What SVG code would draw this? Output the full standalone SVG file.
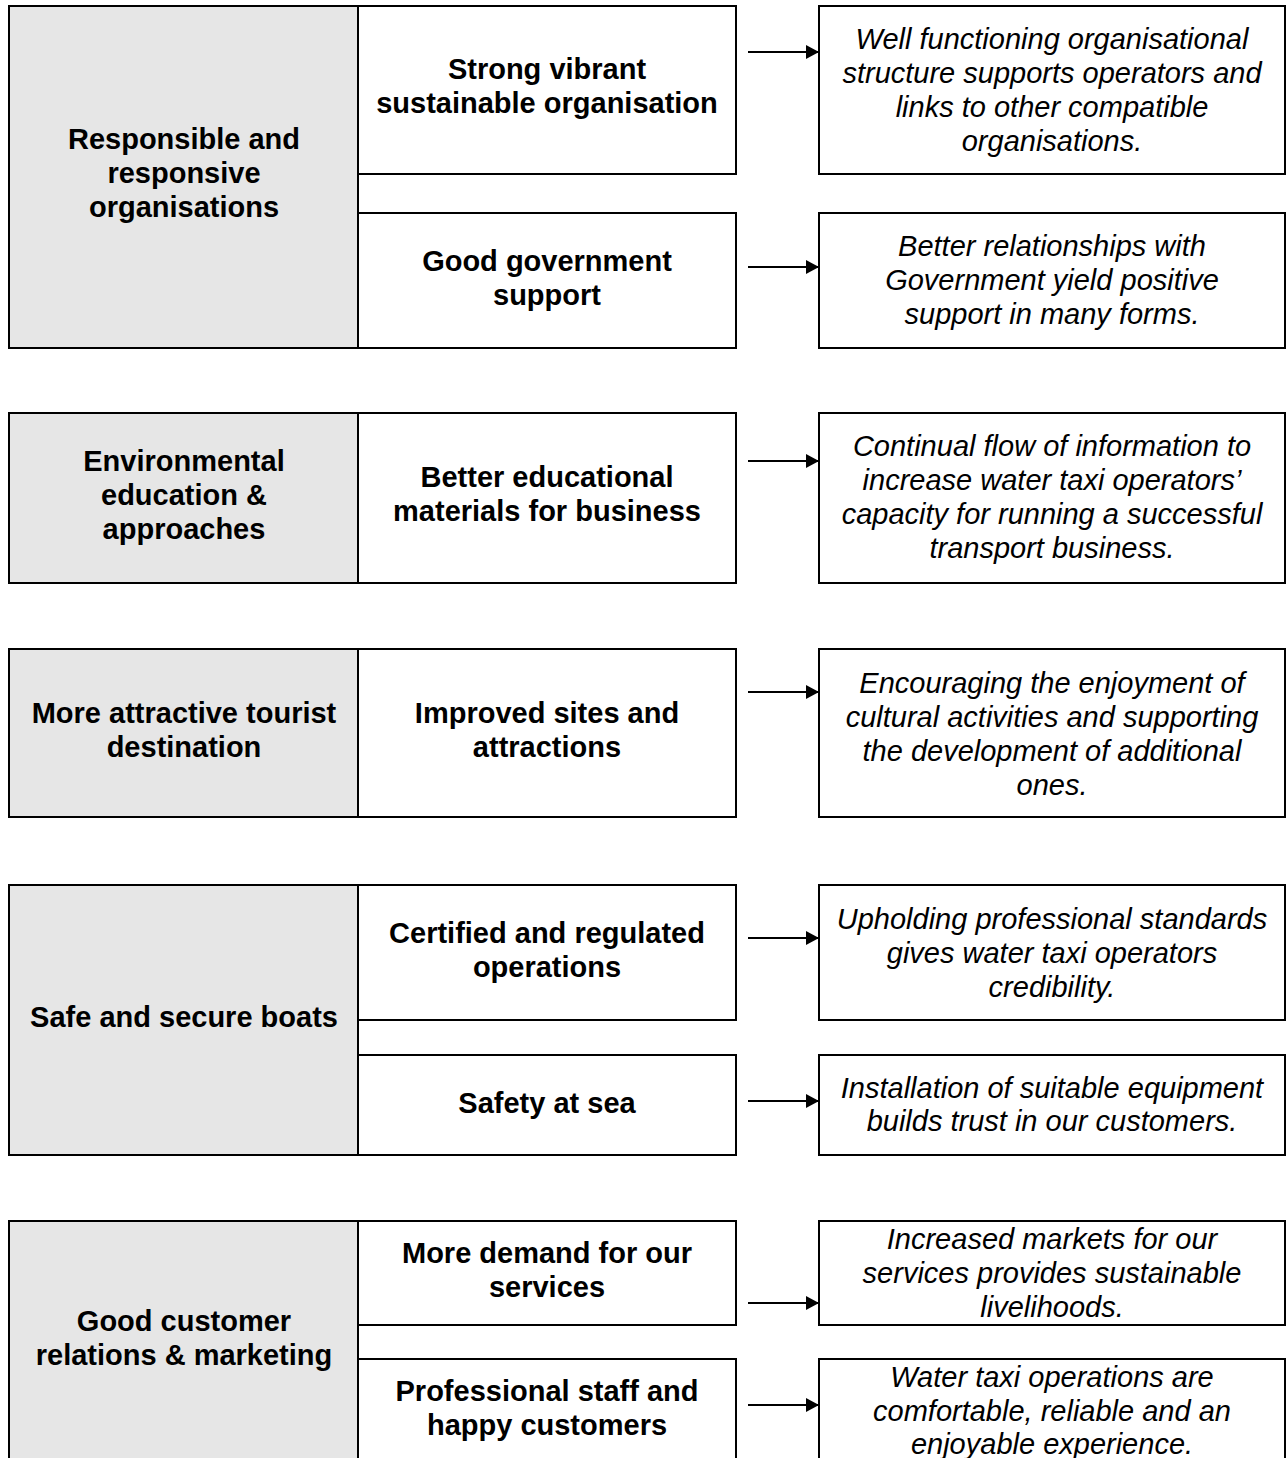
<svg xmlns="http://www.w3.org/2000/svg" width="1286" height="1458" viewBox="0 0 1286 1458">
<style>
.box{fill:#ffffff;stroke:#000;stroke-width:2}
.goal{fill:#e6e6e6;stroke:#000;stroke-width:2}
.b{font-family:"Liberation Sans",Arial,sans-serif;font-weight:bold;font-size:29px;text-anchor:middle;fill:#000}
.i{font-family:"Liberation Sans",Arial,sans-serif;font-style:italic;font-size:29px;text-anchor:middle;fill:#000}
.c{stroke:#000;stroke-width:2;fill:none}
</style>
<defs>
<marker id="ah" markerUnits="userSpaceOnUse" markerWidth="13" markerHeight="14" refX="13" refY="7" orient="auto">
<path d="M0,0 L13,7 L0,14 Z" fill="#000"/>
</marker>
</defs>
<rect width="1286" height="1458" fill="#fff"/>

<!-- Group 1 -->
<g id="goal1"><rect class="goal" x="9" y="6" width="349" height="342"/>
<text class="b" x="184" y="149">Responsible and</text><text class="b" x="184" y="183">responsive</text><text class="b" x="184" y="217">organisations</text></g>
<g id="out1a"><rect class="box" x="358" y="6" width="378" height="168"/>
<text class="b" x="547" y="79">Strong vibrant</text><text class="b" x="547" y="113">sustainable organisation</text></g>
<g id="out1b"><rect class="box" x="358" y="213" width="378" height="135"/>
<text class="b" x="547" y="271">Good government</text><text class="b" x="547" y="305">support</text></g>
<g id="res1a"><rect class="box" x="819" y="6" width="466" height="168"/>
<text class="i" x="1052" y="49">Well functioning organisational</text><text class="i" x="1052" y="83">structure supports operators and</text><text class="i" x="1052" y="117">links to other compatible</text><text class="i" x="1052" y="151">organisations.</text></g>
<g id="res1b"><rect class="box" x="819" y="213" width="466" height="135"/>
<text class="i" x="1052" y="256">Better relationships with</text><text class="i" x="1052" y="290">Government yield positive</text><text class="i" x="1052" y="324">support in many forms.</text></g>

<!-- Group 2 -->
<g id="goal2"><rect class="goal" x="9" y="413" width="349" height="170"/>
<text class="b" x="184" y="471">Environmental</text><text class="b" x="184" y="505">education &amp;</text><text class="b" x="184" y="539">approaches</text></g>
<g id="out2"><rect class="box" x="358" y="413" width="378" height="170"/>
<text class="b" x="547" y="487">Better educational</text><text class="b" x="547" y="521">materials for business</text></g>
<g id="res2"><rect class="box" x="819" y="413" width="466" height="170"/>
<text class="i" x="1052" y="456">Continual flow of information to</text><text class="i" x="1052" y="490">increase water taxi operators’</text><text class="i" x="1052" y="524">capacity for running a successful</text><text class="i" x="1052" y="558">transport business.</text></g>

<!-- Group 3 -->
<g id="goal3"><rect class="goal" x="9" y="649" width="349" height="168"/>
<text class="b" x="184" y="723">More attractive tourist</text><text class="b" x="184" y="757">destination</text></g>
<g id="out3"><rect class="box" x="358" y="649" width="378" height="168"/>
<text class="b" x="547" y="723">Improved sites and</text><text class="b" x="547" y="757">attractions</text></g>
<g id="res3"><rect class="box" x="819" y="649" width="466" height="168"/>
<text class="i" x="1052" y="693">Encouraging the enjoyment of</text><text class="i" x="1052" y="727">cultural activities and supporting</text><text class="i" x="1052" y="761">the development of additional</text><text class="i" x="1052" y="795">ones.</text></g>

<!-- Group 4 -->
<g id="goal4"><rect class="goal" x="9" y="885" width="349" height="270"/>
<text class="b" x="184" y="1027">Safe and secure boats</text></g>
<g id="out4a"><rect class="box" x="358" y="885" width="378" height="135"/>
<text class="b" x="547" y="943">Certified and regulated</text><text class="b" x="547" y="977">operations</text></g>
<g id="out4b"><rect class="box" x="358" y="1055" width="378" height="100"/>
<text class="b" x="547" y="1113">Safety at sea</text></g>
<g id="res4a"><rect class="box" x="819" y="885" width="466" height="135"/>
<text class="i" x="1052" y="929">Upholding professional standards</text><text class="i" x="1052" y="963">gives water taxi operators</text><text class="i" x="1052" y="997">credibility.</text></g>
<g id="res4b"><rect class="box" x="819" y="1055" width="466" height="100"/>
<text class="i" x="1052" y="1098">Installation of suitable equipment</text><text class="i" x="1052" y="1131">builds trust in our customers.</text></g>

<!-- Group 5 -->
<g id="goal5"><rect class="goal" x="9" y="1221" width="349" height="260"/>
<text class="b" x="184" y="1331">Good customer</text><text class="b" x="184" y="1365">relations &amp; marketing</text></g>
<g id="out5a"><rect class="box" x="358" y="1221" width="378" height="104"/>
<text class="b" x="547" y="1263">More demand for our</text><text class="b" x="547" y="1297">services</text></g>
<g id="out5b"><rect class="box" x="358" y="1359" width="378" height="120"/>
<text class="b" x="547" y="1401">Professional staff and</text><text class="b" x="547" y="1435">happy customers</text></g>
<g id="res5a"><rect class="box" x="819" y="1221" width="466" height="104"/>
<text class="i" x="1052" y="1249">Increased markets for our</text><text class="i" x="1052" y="1283">services provides sustainable</text><text class="i" x="1052" y="1317">livelihoods.</text></g>
<g id="res5b"><rect class="box" x="819" y="1359" width="466" height="120"/>
<text class="i" x="1052" y="1387">Water taxi operations are</text><text class="i" x="1052" y="1421">comfortable, reliable and an</text><text class="i" x="1052" y="1454">enjoyable experience.</text></g>

<!-- Connectors -->
<g id="connectors">
<line class="c" x1="748" y1="52" x2="819" y2="52" marker-end="url(#ah)"/>
<line class="c" x1="748" y1="267" x2="819" y2="267" marker-end="url(#ah)"/>
<line class="c" x1="748" y1="461" x2="819" y2="461" marker-end="url(#ah)"/>
<line class="c" x1="748" y1="692" x2="819" y2="692" marker-end="url(#ah)"/>
<line class="c" x1="748" y1="938" x2="819" y2="938" marker-end="url(#ah)"/>
<line class="c" x1="748" y1="1101" x2="819" y2="1101" marker-end="url(#ah)"/>
<line class="c" x1="748" y1="1303" x2="819" y2="1303" marker-end="url(#ah)"/>
<line class="c" x1="748" y1="1405" x2="819" y2="1405" marker-end="url(#ah)"/>
</g>
</svg>
